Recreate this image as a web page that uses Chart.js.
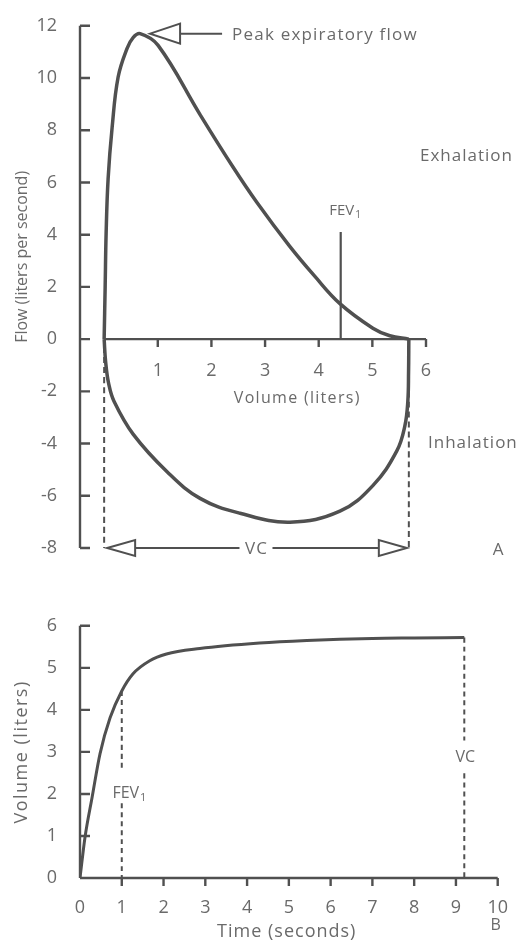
<!DOCTYPE html>
<html>
<head>
<meta charset="utf-8">
<script src="https://cdn.jsdelivr.net/npm/chart.js@4.4.1/dist/chart.umd.min.js"></script>
<style>
  html, body { margin: 0; padding: 0; background: #fff; }
  #wrap { position: relative; width: 519px; height: 945px; }
  canvas { position: absolute; left: 0; }
  #loop { top: 0; }
  #spiro { top: 600px; }
</style>
</head>
<body>
<div id="wrap">
  <canvas id="loop" width="519" height="600"></canvas>
  <canvas id="spiro" width="519" height="345"></canvas>
</div>
<script>
// --- A: flow-volume loop ---
const expVolume = [0, 0.019, 0.037, 0.074, 0.149, 0.261, 0.428, 0.54, 0.67, 1.006, 1.788, 2.402, 2.849, 3.464, 3.929, 4.395, 5.009, 5.326, 5.68];
const expFlow   = [0, 2.0, 4.05, 6.14, 8.11, 10.04, 11.14, 11.55, 11.7, 11.25, 8.6, 6.59, 5.23, 3.54, 2.4, 1.36, 0.42, 0.13, 0];
const inhVolume = [0, 0.028, 0.084, 0.186, 0.54, 1.173, 1.788, 2.533, 3.464, 4.395, 5.009, 5.456, 5.605, 5.661, 5.675, 5.68];
const inhFlow   = [0, -0.87, -1.7, -2.39, -3.64, -5.08, -6.1, -6.67, -7.01, -6.59, -5.61, -4.28, -3.33, -2.39, -1.25, 0];
const loopXTicks = [1, 2, 3, 4, 5, 6];
const fev1Volume = 4.41;
const fev1MarkTop = 4.1;
const vcVolume = 5.68;

// --- B: volume-time curve ---
const timeSec   = [0, 0.12, 0.29, 0.48, 0.72, 1.0, 1.27, 1.67, 2.07, 2.87, 4.3, 5.43, 7.0, 8.0, 9.2];
const volLiters = [0, 0.97, 1.92, 2.96, 3.81, 4.45, 4.86, 5.17, 5.33, 5.46, 5.59, 5.65, 5.7, 5.71, 5.72];
const spiroXTicks = [0, 1, 2, 3, 4, 5, 6, 7, 8, 9, 10];
const fev1Time = 1;
const vcTime = 9.2;

const INK = '#505050';
const TXT = '#6a6a6a';
const FONT = '"Open Sans", sans-serif';

const pts = (xs, ys) => xs.map((x, i) => ({ x: x, y: ys[i] }));
const seg = (x, y1, y2) => [{ x: x, y: y1 }, { x: x, y: y2 }];

function lineSet(data, width, dash, mono) {
  return {
    data: data,
    borderColor: INK,
    borderWidth: width,
    borderDash: dash || [],
    pointRadius: 0,
    fill: false,
    tension: 0.4,
    cubicInterpolationMode: mono ? 'monotone' : 'default'
  };
}

// axis lines with inward y ticks and downward x ticks
const handAxes = {
  id: 'handAxes',
  beforeDatasetsDraw(chart, args, opts) {
    const { ctx } = chart;
    const xs = chart.scales.x, ys = chart.scales.y;
    const left = chart.chartArea.left;
    const y0 = ys.getPixelForValue(0);
    ctx.save();
    ctx.strokeStyle = INK;
    ctx.lineWidth = 2.4;
    ctx.beginPath();
    ctx.moveTo(left, ys.getPixelForValue(ys.max));
    ctx.lineTo(left, ys.getPixelForValue(ys.min));
    ys.ticks.forEach(t => {
      const y = ys.getPixelForValue(t.value);
      ctx.moveTo(left, y);
      ctx.lineTo(left + 10, y);
    });
    ctx.moveTo(xs.getPixelForValue(opts.xStart), y0);
    ctx.lineTo(xs.getPixelForValue(xs.max), y0);
    xs.ticks.forEach(t => {
      if (t.value <= 0) return;
      const x = xs.getPixelForValue(t.value);
      ctx.moveTo(x, y0);
      ctx.lineTo(x, y0 + 8);
    });
    ctx.stroke();
    ctx.restore();
  }
};

function text(ctx, s, x, y, size, align, spacing) {
  ctx.font = size + 'px ' + FONT;
  ctx.letterSpacing = (spacing || 0) + 'px';
  ctx.fillStyle = TXT;
  ctx.textAlign = align || 'center';
  ctx.textBaseline = 'middle';
  ctx.fillText(s, x, y);
  ctx.letterSpacing = '0px';
}

function vtext(ctx, s, x, y, size, spacing) {
  ctx.save();
  ctx.translate(x, y);
  ctx.rotate(-Math.PI / 2);
  text(ctx, s, 0, 0, size, 'center', spacing);
  ctx.restore();
}

function fevLabel(ctx, x, y, size) {
  ctx.font = size + 'px ' + FONT;
  const w = ctx.measureText('FEV').width;
  text(ctx, 'FEV', x - 4, y, size, 'center');
  text(ctx, '1', x - 4 + w / 2 + 4, y + 4, size - 5, 'center');
}

function openArrow(ctx, tipX, y, dir, len, half) {
  ctx.beginPath();
  ctx.moveTo(tipX, y);
  ctx.lineTo(tipX + dir * len, y - half);
  ctx.lineTo(tipX + dir * len, y + half);
  ctx.closePath();
  ctx.stroke();
}

const loopNotes = {
  id: 'loopNotes',
  afterDatasetsDraw(chart) {
    const { ctx, chartArea } = chart;
    const xs = chart.scales.x, ys = chart.scales.y;
    ctx.save();
    ctx.strokeStyle = INK;
    ctx.lineWidth = 2;

    // peak expiratory flow pointer
    let k = 0;
    expFlow.forEach((f, i) => { if (f > expFlow[k]) k = i; });
    const px = xs.getPixelForValue(expVolume[k]) + 10;
    const py = ys.getPixelForValue(expFlow[k]);
    openArrow(ctx, px, py, 1, 30, 10);
    ctx.beginPath();
    ctx.moveTo(px + 30, py);
    ctx.lineTo(px + 72, py);
    ctx.stroke();
    text(ctx, 'Peak expiratory flow', px + 82, py + 2, 17, 'left', 1.2);

    // VC span arrow
    const yb = ys.getPixelForValue(ys.min);
    const xl = xs.getPixelForValue(0) + 3;
    const xr = xs.getPixelForValue(vcVolume) - 2;
    const xm = xs.getPixelForValue(vcVolume / 2);
    openArrow(ctx, xl, yb, 1, 28, 8);
    openArrow(ctx, xr, yb, -1, 28, 8);
    ctx.beginPath();
    ctx.moveTo(xl + 28, yb); ctx.lineTo(xm - 17, yb);
    ctx.moveTo(xm + 16, yb); ctx.lineTo(xr - 28, yb);
    ctx.stroke();
    text(ctx, 'VC', xm, yb + 1, 17, 'center', 1);

    fevLabel(ctx, xs.getPixelForValue(fev1Volume) + 5, ys.getPixelForValue(4.9), 15);

    text(ctx, 'Exhalation', chartArea.right - 6, ys.getPixelForValue(7), 17, 'left', 1);
    text(ctx, 'Inhalation', chartArea.right + 2, ys.getPixelForValue(-4), 17, 'left', 1);
    text(ctx, 'A', chartArea.right + 72, yb + 2, 17);

    text(ctx, 'Volume (liters)', xs.getPixelForValue(3.6), ys.getPixelForValue(-2.27), 16, 'center', 1.3);
    vtext(ctx, 'Flow (liters per second)', 22, ys.getPixelForValue(3.15), 16);
    ctx.restore();
  }
};

const spiroNotes = {
  id: 'spiroNotes',
  afterDatasetsDraw(chart) {
    const { ctx, chartArea } = chart;
    const xs = chart.scales.x, ys = chart.scales.y;
    ctx.save();
    fevLabel(ctx, xs.getPixelForValue(fev1Time) + 8, ys.getPixelForValue(2.0), 16);
    text(ctx, 'VC', xs.getPixelForValue(vcTime) + 1, ys.getPixelForValue(2.87), 16);
    text(ctx, 'Time (seconds)', xs.getPixelForValue(4.95), ys.getPixelForValue(0) + 54, 18, 'center', 1);
    text(ctx, 'B', chartArea.right - 2, ys.getPixelForValue(0) + 47, 16);
    vtext(ctx, 'Volume (liters)', 22, ys.getPixelForValue(3), 18, 1.5);
    ctx.restore();
  }
};

const tickFont = { family: FONT, size: 18 };

new Chart(document.getElementById('loop'), {
  type: 'line',
  data: {
    datasets: [
      lineSet(pts(expVolume, expFlow), 3.5),
      lineSet(pts(inhVolume, inhFlow), 3.5),
      lineSet(seg(fev1Volume, 0, fev1MarkTop), 2.2),
      lineSet(seg(0, -0.3, -8), 2, [6, 4]),
      lineSet(seg(vcVolume, -2, -8), 2, [6, 4])
    ]
  },
  options: {
    responsive: false,
    animation: false,
    layout: { autoPadding: false, padding: { left: 0, top: 20, right: 93, bottom: 52 } },
    plugins: {
      legend: { display: false },
      tooltip: { enabled: false },
      handAxes: { xStart: 0 }
    },
    scales: {
      x: {
        type: 'linear',
        position: { y: 0 },
        min: -0.45,
        max: 6,
        afterBuildTicks: s => { s.ticks = loopXTicks.map(v => ({ value: v })); },
        grid: { display: false },
        border: { display: false },
        ticks: { font: tickFont, color: TXT, padding: 13, maxRotation: 0 }
      },
      y: {
        type: 'linear',
        min: -8,
        max: 12,
        afterFit: s => { s.width = 80; },
        grid: { display: false },
        border: { display: false },
        ticks: { font: tickFont, color: TXT, padding: 15, stepSize: 2 }
      }
    }
  },
  plugins: [handAxes, loopNotes]
});

new Chart(document.getElementById('spiro'), {
  type: 'line',
  data: {
    datasets: [
      lineSet(pts(timeSec, volLiters), 3, null, true),
      lineSet(seg(fev1Time, volLiters[timeSec.indexOf(fev1Time)], 2.56), 2, [5, 4]),
      lineSet(seg(fev1Time, 1.78, 0), 2, [5, 4]),
      lineSet(seg(vcTime, volLiters[volLiters.length - 1], 3.27), 2, [5, 4]),
      lineSet(seg(vcTime, 2.49, 0), 2, [5, 4])
    ]
  },
  options: {
    responsive: false,
    animation: false,
    layout: { autoPadding: false, padding: { left: 0, top: 25, right: 19, bottom: 67 } },
    plugins: {
      legend: { display: false },
      tooltip: { enabled: false },
      handAxes: { xStart: 0 }
    },
    scales: {
      x: {
        type: 'linear',
        position: { y: 0 },
        min: 0,
        max: 10,
        afterBuildTicks: s => { s.ticks = spiroXTicks.map(v => ({ value: v })); },
        grid: { display: false },
        border: { display: false },
        ticks: { font: tickFont, color: TXT, padding: 11, maxRotation: 0 }
      },
      y: {
        type: 'linear',
        min: 0,
        max: 6,
        afterFit: s => { s.width = 80; },
        grid: { display: false },
        border: { display: false },
        ticks: { font: tickFont, color: TXT, padding: 15, stepSize: 1 }
      }
    }
  },
  plugins: [handAxes, spiroNotes]
});
</script>
</body>
</html>
